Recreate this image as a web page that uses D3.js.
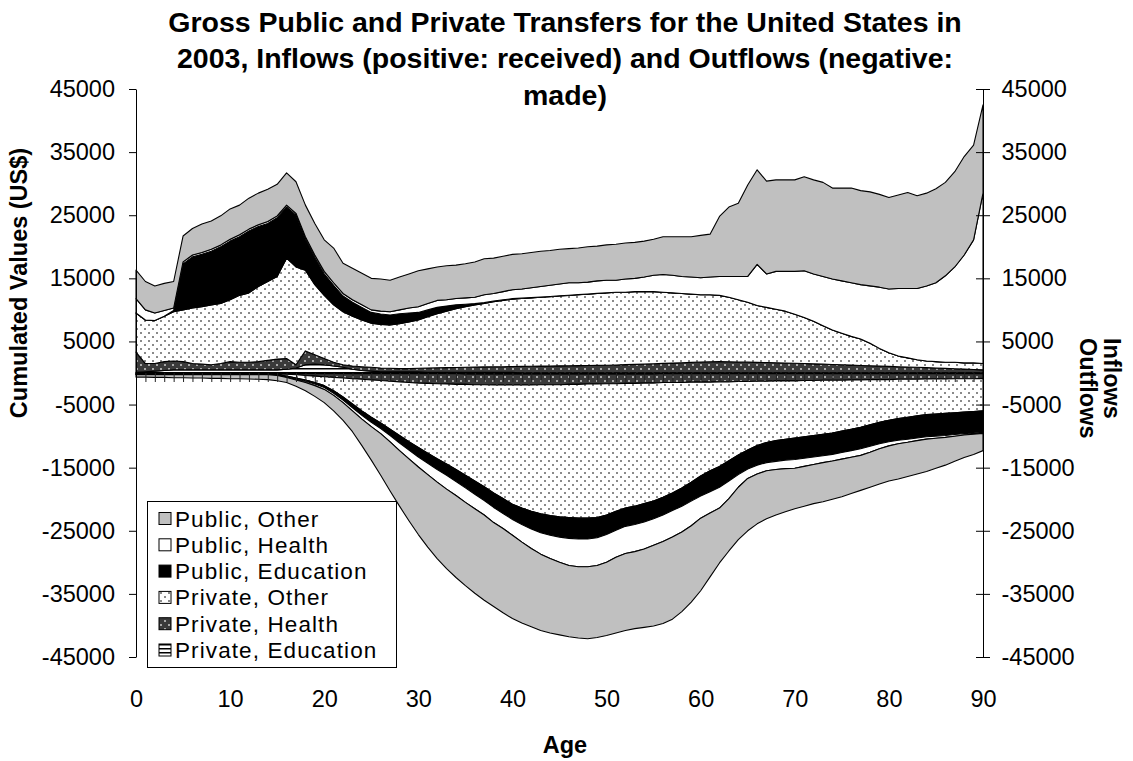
<!DOCTYPE html>
<html><head><meta charset="utf-8">
<script src="https://cdn.jsdelivr.net/npm/d3@7"></script>
<style>body{margin:0;background:#fff}svg{display:block;font-family:"Liberation Sans",Arial,sans-serif}</style>
</head><body><svg id="c" width="1133" height="761"></svg>
<script>
// ---------- DATA ----------
const ages = d3.range(0, 91);
const xTicks = [0,10,20,30,40,50,60,70,80,90];
const yTicks = [45000,35000,25000,15000,5000,-5000,-15000,-25000,-35000,-45000];
const titleLines = ["Gross Public and Private Transfers for the United States in",
  "2003, Inflows (positive: received) and Outflows (negative:", "made)"];
const seriesNames = ["Private, Education","Private, Health","Private, Other","Public, Education","Public, Health","Public, Other"];

// Inflows (received)
const privEduIn = [100,200,300,400,500,500,500,500,500,500, 500,500,500,500,500,500,600,800,1300,1400,
 1300,1100,900,600,400,300,200,200,200,200, 200,100,100,100,100,100,100,100,100,100,
 100,0,0,0,0,0,0,0,0,0, 0,0,0,0,0,0,0,0,0,0, 0,0,0,0,0,0,0,0,0,0, 0,0,0,0,0,0,0,0,0,0, 0,0,0,0,0,0,0,0,0,0, 0];
const privHealthIn = [3200,1300,1200,1400,1400,1300,1000,900,800,1000, 1300,1200,1200,1300,1500,1700,1700,500,2200,1500,
 1000,600,400,500,600,600,600,550,500,500, 550,700,720,750,770,800,850,870,890,900,
 930,1050,1070,1090,1110,1130,1150,1170,1190,1210, 1230,1270,1320,1370,1420,1470,1520,1570,1620,1680,
 1750,1780,1800,1780,1750,1720,1690,1660,1620,1580, 1540,1500,1450,1400,1350,1300,1250,1200,1150,1100,
 1050,1000,950,900,850,800,740,680,620,560, 500];
const privOtherIn = [6200,6900,6800,7200,7800,8200,8800,9100,9500,9500, 9800,10600,11000,11900,12500,13100,15900,15500,12800,11100,
 10000,9100,8400,7900,7400,7000,6900,6850,7100,7400, 7650,8100,8580,8950,9330,9600,9850,10030,10310,10500,
 10670,10750,10830,10910,10990,11070,11150,11230,11310,11390, 11470,11530,11480,11530,11480,11430,11280,11130,10980,10820,
 10650,10620,10500,10220,9850,9480,9010,8740,8480,8220, 7760,7300,6750,6100,5450,5000,4550,4200,3550,2800,
 2150,1700,1450,1200,1050,1000,960,1020,980,1040, 1000];
const pubEduIn = [0,0,0,0,200,7300,8100,8300,8500,9000, 9300,9300,9800,9500,9200,9300,8100,8200,4900,4300,
 3400,3100,2500,2200,2000,1700,1650,1600,1600,1400, 1200,1100,1000,800,600,400,200,150,100,100,
 80,60,50,40,30,30,20,20,20,20, 10,0,0,0,0,0,0,0,0,0, 0,0,0,0,0,0,0,0,0,0, 0,0,0,0,0,0,0,0,0,0, 0,0,0,0,0,0,0,0,0,0, 0];
const pubHealthIn = [2300,1600,1200,900,400,300,300,300,300,300, 300,300,300,300,300,300,300,300,400,400,
 400,400,400,400,400,400,450,500,600,800, 900,1000,1100,1000,1000,1000,1000,1250,1200,1300,
 1420,1440,1550,1660,1770,1870,1980,1880,1880,1980, 1990,1900,2100,2100,2300,2600,2800,2800,2700,2700,
 2700,2800,3000,3300,3700,4100,6500,5300,6000,6300, 6800,7400,7500,7800,8100,8300,8500,8600,9100,9700,
 10100,10700,11000,11300,11900,12500,13700,15100,17100,19500, 27000];
const pubOtherIn = [4500,4500,4300,4300,4200,4100,4200,4500,4500,4600, 4800,4700,4900,5000,5100,5000,5100,5000,5000,5000,
 5000,5500,4800,5000,5000,5000,5100,5000,5200,5400, 5700,5500,5300,5400,5300,5400,5600,5700,5600,5600,
 5600,5600,5600,5600,5500,5500,5400,5500,5600,5500, 5600,5700,5700,5700,5700,5700,6000,6100,6300,6400,
 6700,6800,9500,11000,11600,14500,15000,14700,14500,14500, 14500,14900,14900,14900,14400,14700,15000,14900,14900,14700,
 14500,14800,15200,14700,14700,14900,14800,15100,15600,15000, 14000];

// Outflows (made)
const privEduOut = [-30,-30,-30,-30,-30,-30,-30,-30,-30,-30, -30,-30,-30,-30,-30,-30,-30,-30,-50,-50,
 -50,-50,-50,-50,-50,-50,-50,-50,-50,-50, -50,-50,-50,-50,-50,-150,-150,-150,-150,-150,
 -150,-150,-150,-150,-150,-150,-150,-150,-150,-150, -150,-150,-150,-150,-150,-150,-50,-50,-50,-50,
 -50,-50,-50,-50,-50,-50,-50,-50,-50,-50, -50,-50,-50,-50,-50,-50,-50,-50,-50,-50,
 -50,-50,-50,-50,-50,-50,-50,-50,-50,-50, -50];
const privHealthOut = [-70,-70,-70,-70,-70,-70,-70,-70,-70,-70, -70,-70,-70,-70,-70,-120,-150,-250,-350,-450,
 -550,-650,-750,-850,-950,-1050,-1150,-1250,-1350,-1450, -1550,-1600,-1650,-1700,-1750,-1650,-1700,-1700,-1750,-1750,
 -1750,-1750,-1750,-1700,-1700,-1700,-1650,-1650,-1600,-1600, -1550,-1550,-1500,-1500,-1450,-1450,-1450,-1450,-1450,-1400,
 -1400,-1400,-1350,-1350,-1300,-1300,-1250,-1250,-1200,-1200, -1200,-1150,-1150,-1100,-1100,-1100,-1050,-1050,-1000,-1000,
 -1000,-950,-950,-950,-900,-900,-900,-850,-850,-850, -800];
const privOtherOut = [-100,-100,-100,-100,-100,-100,-100,-100,-100,-100, -100,-100,-100,-100,-100,-150,-320,-520,-700,-1000,
 -1400,-2100,-3000,-4000,-5000,-5900,-6700,-7600,-8500,-9400, -10200,-11050,-11900,-12650,-13500,-14400,-15250,-16150,-17100,-18000,
 -18900,-19500,-20000,-20450,-20750,-20950,-21100,-21200,-21250,-21150, -20800,-20200,-19750,-19450,-19100,-18700,-18200,-17500,-16700,-15850,
 -14850,-14050,-13400,-12500,-11650,-10850,-10200,-9700,-9450,-9250, -9050,-8900,-8700,-8550,-8350,-8050,-7800,-7500,-7150,-6750,
 -6450,-6200,-6000,-5800,-5650,-5550,-5450,-5400,-5300,-5200, -5150];
const pubEduOut = [0,0,0,0,0,0,0,0,0,0, 0,0,0,0,0,0,-100,-150,-200,-250,
 -300,-400,-500,-600,-700,-800,-900,-1000,-1200,-1300, -1500,-1600,-1700,-1800,-1900,-2000,-2100,-2200,-2300,-2350,
 -2400,-2600,-2800,-3000,-3100,-3200,-3300,-3300,-3300,-3200, -3100,-3000,-2900,-2900,-2900,-2800,-2800,-2800,-2900,-3000,
 -3200,-3300,-3300,-3200,-3100,-3000,-3100,-3200,-3300,-3300, -3400,-3400,-3400,-3400,-3400,-3400,-3400,-3400,-3400,-3400,
 -3400,-3450,-3500,-3500,-3500,-3500,-3500,-3450,-3400,-3400, -3400];
const pubHealthOut = [-50,-50,-50,-50,-50,-50,-50,-50,-50,-50, -50,-50,-50,-50,-50,-80,-100,-150,-200,-250,
 -300,-350,-400,-500,-600,-700,-800,-1000,-1200,-1400, -1600,-1800,-2000,-2200,-2200,-2300,-2300,-2300,-2400,-2400,
 -2500,-2800,-3100,-3400,-3700,-4000,-4300,-4400,-4400,-4400, -4400,-4300,-4300,-4300,-4300,-4200,-4200,-4200,-4100,-3900,
 -3500,-3400,-3300,-2800,-2000,-1500,-1400,-1300,-1300,-1350, -1400,-1300,-1200,-1100,-1050,-1050,-1050,-1050,-950,-800,
 -650,-550,-480,-420,-380,-340,-300,-260,-220,-190, -160];
const pubOtherOut = [-400,-400,-450,-450,-500,-500,-550,-550,-600,-600, -650,-650,-700,-750,-800,-850,-800,-1000,-1300,-1700,
 -2100,-2450,-2800,-3300,-4200,-5300,-6600,-7800,-8800,-9800, -10700,-11500,-12100,-12600,-13000,-13200,-13400,-13500,-13300,-13350,
 -13200,-12800,-12400,-12100,-11800,-11500,-11300,-11300,-11400,-11400, -11600,-12000,-12200,-12200,-12400,-12800,-13000,-13000,-12600,-12100,
 -11500,-10100,-8700,-8300,-8300,-8300,-7900,-7600,-7200,-6850, -6400,-6300,-6200,-6200,-6050,-5950,-5750,-5550,-5550,-5600,
 -5550,-5600,-5420,-5280,-5120,-4760,-4400,-3990,-3580,-3210, -2740];

// ---------- BUILD ----------
const keys = ["privEdu","privHealth","privOther","pubEdu","pubHealth","pubOther"];
const inRows = ages.map((a,i)=>({age:a, privEdu:privEduIn[i], privHealth:privHealthIn[i], privOther:privOtherIn[i],
  pubEdu:pubEduIn[i], pubHealth:pubHealthIn[i], pubOther:pubOtherIn[i]}));
const outRows = ages.map((a,i)=>({age:a, privEdu:privEduOut[i], privHealth:privHealthOut[i], privOther:privOtherOut[i],
  pubEdu:pubEduOut[i], pubHealth:pubHealthOut[i], pubOther:pubOtherOut[i]}));

const svg = d3.select("#c");
const defs = svg.append("defs");
const p1 = defs.append("pattern").attr("id","dotL").attr("patternUnits","userSpaceOnUse").attr("width",8).attr("height",8);
p1.append("rect").attr("width",8).attr("height",8).attr("fill","#fff");
p1.append("rect").attr("x",0).attr("y",0).attr("width",2).attr("height",2).attr("fill","#8a8a8a");
p1.append("rect").attr("x",4).attr("y",4).attr("width",2).attr("height",2).attr("fill","#8a8a8a");
const p2 = defs.append("pattern").attr("id","dotD").attr("patternUnits","userSpaceOnUse").attr("width",8).attr("height",8);
p2.append("rect").attr("width",8).attr("height",8).attr("fill","#3a3a3a");
p2.append("rect").attr("x",0).attr("y",0).attr("width",2).attr("height",2).attr("fill","#a8a8a8");
p2.append("rect").attr("x",4).attr("y",4).attr("width",2).attr("height",2).attr("fill","#a8a8a8");
const p3 = defs.append("pattern").attr("id","hstr").attr("patternUnits","userSpaceOnUse").attr("width",4).attr("height",4);
p3.append("rect").attr("width",4).attr("height",4).attr("fill","#fff");
p3.append("rect").attr("x",0).attr("y",0).attr("width",4).attr("height",1.5).attr("fill","#000");

const fills = {privEdu:"url(#hstr)", privHealth:"url(#dotD)", privOther:"url(#dotL)", pubEdu:"#000", pubHealth:"#fff", pubOther:"#c0c0c0"};

const x = d3.scaleLinear().domain([0,90]).range([136,983]);
const y = d3.scaleLinear().domain([-45000,45000]).range([657,89]);

// plain cumulative stacking: inflows build upward, outflows (negative) build downward
const stack = d3.stack().keys(keys).offset(d3.stackOffsetNone);
const inSeries = stack(inRows);
const outSeries = stack(outRows);
const area = d3.area().x(d=>x(d.data.age)).y0(d=>y(d[0])).y1(d=>y(d[1]));

const gA = svg.append("g");
[inSeries, outSeries].forEach(ser=>{
  gA.selectAll(null).data(ser).enter().append("path")
    .attr("d", area).attr("fill", d=>fills[d.key])
    .attr("stroke","#000").attr("stroke-width",1.1).attr("stroke-linejoin","round");
});

// zero (category) axis with ticks at every age
const zeroAx = svg.append("g").attr("transform",`translate(0,${y(0)})`)
  .call(d3.axisBottom(x).tickValues(ages).tickSize(9).tickSizeOuter(0).tickFormat(""));
zeroAx.select(".domain").attr("stroke","#000").attr("stroke-width",1.6);
zeroAx.selectAll(".tick line").attr("stroke","#222").attr("stroke-width",1);

const fmt = d => String(d);
const lAx = svg.append("g").attr("transform","translate(136,0)")
  .call(d3.axisLeft(y).tickValues(yTicks).tickSize(7).tickSizeOuter(0).tickPadding(14).tickFormat(fmt));
lAx.selectAll("text").attr("font-size",23.5).attr("fill","#000").attr("font-family","Liberation Sans, Arial, sans-serif");
lAx.selectAll("line,.domain").attr("stroke","#000");

const rAx = svg.append("g").attr("transform","translate(983,0)")
  .call(d3.axisRight(y).tickValues(yTicks).tickSize(7).tickSizeOuter(0).tickPadding(11.5).tickFormat(fmt));
rAx.selectAll(".tick line").attr("x1",-7);
rAx.selectAll("text").attr("font-size",23.5).attr("fill","#000").attr("font-family","Liberation Sans, Arial, sans-serif");
rAx.selectAll("line,.domain").attr("stroke","#000");

const bAx = svg.append("g").attr("transform","translate(0,657)")
  .call(d3.axisBottom(x).tickValues(xTicks).tickSize(0).tickPadding(33));
bAx.select(".domain").remove();
bAx.selectAll("text").attr("font-size",23.5).attr("fill","#000").attr("font-family","Liberation Sans, Arial, sans-serif");

svg.append("g").selectAll("text").data(titleLines).enter().append("text")
  .attr("x",565).attr("y",(d,i)=>31.5+i*36.5).attr("text-anchor","middle")
  .attr("font-size",28.5).attr("font-weight","bold").text(d=>d);

svg.append("text").attr("transform","translate(27,283) rotate(-90)").attr("text-anchor","middle")
  .attr("font-size",23.5).attr("font-weight","bold").text("Cumulated Values (US$)");
svg.append("text").attr("x",565).attr("y",753).attr("text-anchor","middle")
  .attr("font-size",23.5).attr("font-weight","bold").text("Age");
svg.append("text").attr("transform","translate(1104,338) rotate(90)").attr("font-size",23.5).attr("font-weight","bold").text("Inflows");
svg.append("text").attr("transform","translate(1080,338) rotate(90)").attr("font-size",23.5).attr("font-weight","bold").text("Outflows");

// legend
const legOrder = [5,4,3,2,1,0];
const lg = svg.append("g");
lg.append("rect").attr("x",147.5).attr("y",501.5).attr("width",249).attr("height",166)
  .attr("fill","#fff").attr("stroke","#000").attr("stroke-width",1);
legOrder.forEach((k,i)=>{
  const cy = 518.5 + i*26.3;
  lg.append("rect").attr("x",159).attr("y",cy-6).attr("width",12).attr("height",12)
    .attr("fill",fills[keys[k]]).attr("stroke","#000").attr("stroke-width",1);
  lg.append("text").attr("x",175).attr("y",cy+8).attr("font-size",22.5).attr("letter-spacing",1.1).text(seriesNames[k]);
});
</script></body></html>
